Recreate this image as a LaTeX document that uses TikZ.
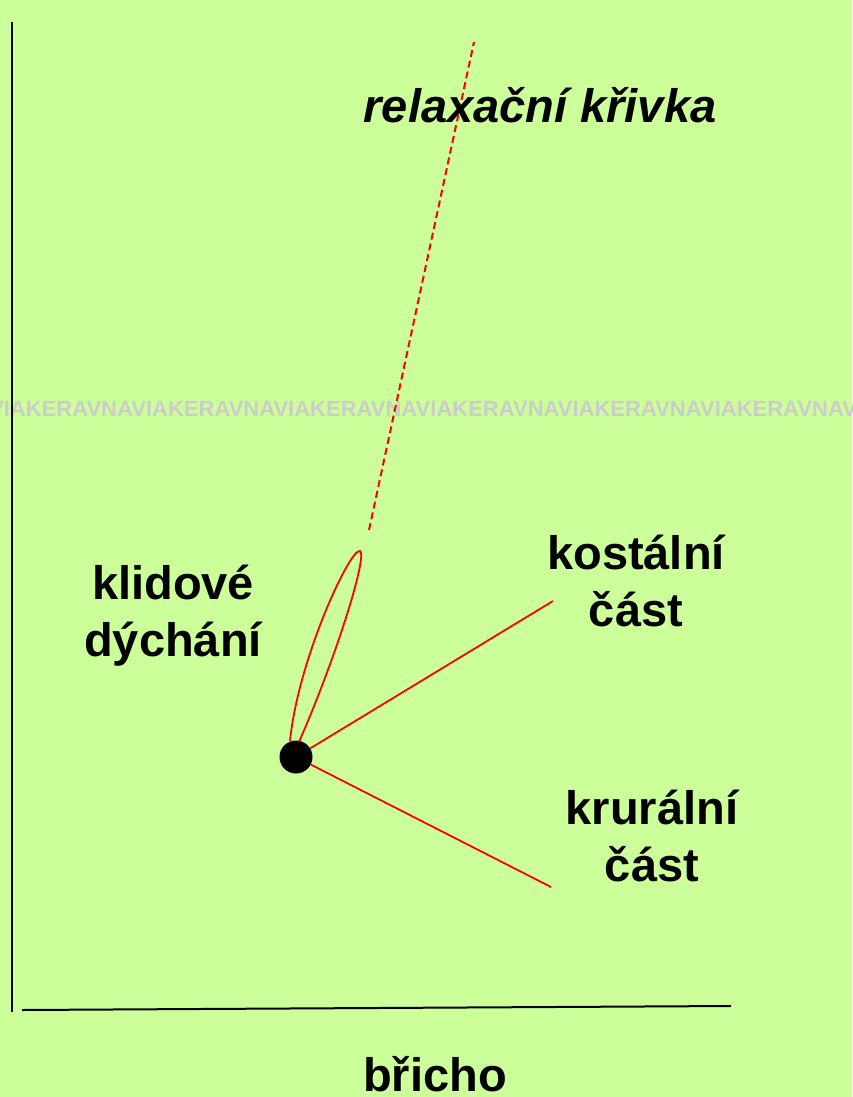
\documentclass[tikz,border=0pt]{standalone}
\usepackage{fontspec}
\setmainfont{Liberation Sans}
\usepackage{tikz}
\usetikzlibrary{positioning,calc}
\definecolor{bgreen}{HTML}{CCFF99}
\tikzset{
    label/.style={
        font=\fontsize{47}{57}\selectfont\bfseries,
        align=center,
        inner sep=0pt
    },
    curve/.style={red, line width=1.8pt},
    axis/.style={black, line width=2pt}
}
\begin{document}
\begin{tikzpicture}[x=1pt, y=-1pt]
    % page background
    \fill[bgreen] (0,0) rectangle (852,1097);

    % watermark band
    \begin{scope}
        \clip (0,0) rectangle (852,1097);
        \node (wm) [font=\fontsize{22}{22}\selectfont\bfseries, text=black!20, inner sep=0pt, anchor=west]
            at (-11,409) {VIAKERAVNAVIAKERAVNAVIAKERAVNAVIAKERAVNAVIAKERAVNAVIAKERAVNAVIAKERAVNA};
    \end{scope}

    % axes
    \coordinate (top) at (12,22);
    \coordinate (origin) at (12,1012);
    \coordinate (xstart) at (22,1010);
    \coordinate (xend) at (731,1006);
    \draw[axis] (top) -- (origin);
    \draw[axis] (xstart) -- (xend);

    % resting point and branches
    \node (rest) [circle, fill=black, minimum size=33pt, inner sep=0pt] at (296,757) {};
    \coordinate (kost) at (553,601);
    \coordinate (krur) at (551,887);
    \coordinate (tip) at (360,551);
    \draw[curve] (rest) -- (kost);
    \draw[curve] (rest) -- (krur);
    \draw[curve] (290,741) .. controls (298,660) and (350,548) .. (tip)
        .. controls (368,556) and (335,660) .. (299,742);

    % relaxation curve
    \coordinate (rlow) at (369,530);
    \coordinate (rhigh) at (474,42);
    \draw[red, line width=2pt, dash pattern=on 7pt off 4pt] (rlow) -- (rhigh);

    % labels
    \node (relax) [label, font=\fontsize{47}{57}\selectfont\bfseries\itshape] at (540,105) {relaxační křivka};
    \node (klid) [label] at (173,616) {klidové\\dýchání};
    \node (kostlab) [label] at (636,581) {kostální\\část};
    \node (krurlab) [label] at (652,836) {krurální\\část};
    \node (bricho) [label] at (435,1074) {břicho};

    \useasboundingbox (0,0) rectangle (852,1097);
\end{tikzpicture}
\end{document}
